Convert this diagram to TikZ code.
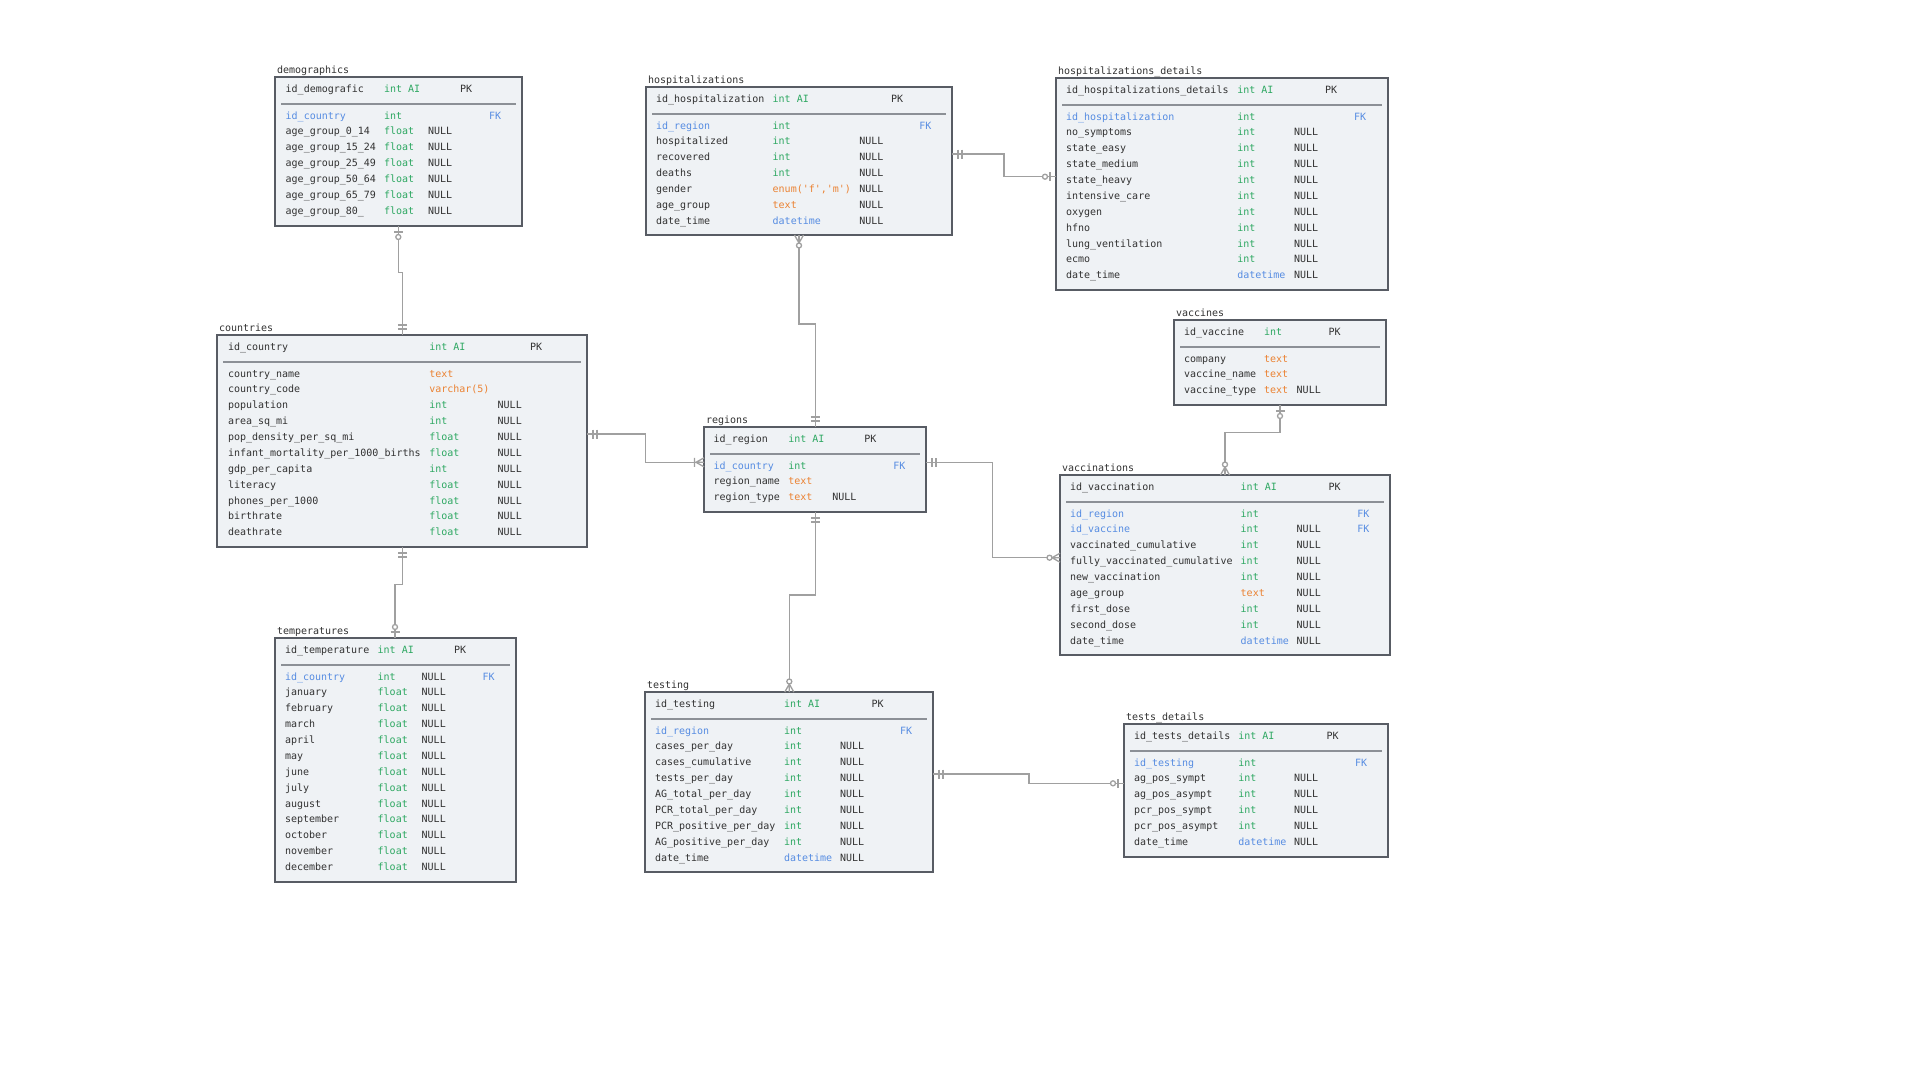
\documentclass[tikz,border=0pt]{standalone}
\usepackage{fontspec}
\setmonofont{DejaVu Sans Mono}
\definecolor{ink}{RGB}{50,50,50}
\definecolor{cgreen}{RGB}{46,168,98}
\definecolor{corange}{RGB}{235,130,50}
\definecolor{cblue}{RGB}{86,140,226}
\definecolor{boxf}{RGB}{239,242,245}
\definecolor{boxc}{RGB}{88,92,100}
\definecolor{sepc}{RGB}{140,144,150}
\definecolor{connc}{RGB}{160,160,160}
\tikzset{
  box/.style={draw=boxc, line width=2pt, fill=boxf, rectangle, inner sep=0pt, outer sep=0pt, anchor=north west},
  txt/.style={anchor=base west, inner sep=0pt, outer sep=0pt, font=\fontsize{10}{12}\selectfont\ttfamily, text=ink},
  sepl/.style={draw=sepc, line width=1.5pt},
  conn/.style={draw=connc, line width=1.3pt},
}
\newcounter{nn}
\newcommand\tcols[5]{\def\cN{#1}\def\cT{#2}\def\cU{#3}\def\cP{#4}\def\cK{#5}}
\newcommand\mktable[6]{%
  \node[box, minimum width=#5pt, minimum height=#6pt] (#1) at (#3,#4) {};
  \node[txt] (#1-title) at (#3+2,#4-4) {#2};
  \def\tn{#1}\def\ty{#4}%
  \pgfmathsetmacro\yy{#4+42.1}}
\newcommand\hdr[2]{%
  \node[txt] (\tn-hn) at (\cN,\ty+15.5) {#1};
  \node[txt,text=cgreen] (\tn-ht) at (\cT,\ty+15.5) {#2};
  \node[txt] (\tn-hp) at (\cP,\ty+15.5) {PK};
  \draw[sepl] ([xshift=6pt,yshift=-26.8pt]\tn.north west) -- ([xshift=-6pt,yshift=-26.8pt]\tn.north east);}
\newcommand\frow[4]{%
  \stepcounter{nn}%
  \node[txt] (\tn-n\arabic{nn}) at (\cN,\yy) {#1};
  \node[txt,text=#3] (\tn-t\arabic{nn}) at (\cT,\yy) {#2};
  \if\relax\detokenize{#4}\relax\else\node[txt] (\tn-u\arabic{nn}) at (\cU,\yy) {#4};\fi
  \pgfmathsetmacro\yy{\yy+15.87}}
\newcommand\fkrow[3]{%
  \stepcounter{nn}%
  \node[txt,text=cblue] (\tn-n\arabic{nn}) at (\cN,\yy) {#1};
  \node[txt,text=cgreen] (\tn-t\arabic{nn}) at (\cT,\yy) {#2};
  \if\relax\detokenize{#3}\relax\else\node[txt] (\tn-u\arabic{nn}) at (\cU,\yy) {#3};\fi
  \node[txt,text=cblue] (\tn-k\arabic{nn}) at (\cK,\yy) {FK};
  \pgfmathsetmacro\yy{\yy+15.87}}
% markers: #1 point, #2 rotation (0 right, 180 left, -90 down, 90 up)
\newcommand\mkone[2]{\begin{scope}[shift={(#1)},rotate=#2]\draw[conn] (6,-4.5)--(6,4.5) (10,-4.5)--(10,4.5);\end{scope}}
\newcommand\mkzone[2]{\begin{scope}[shift={(#1)},rotate=#2]\draw[conn] (6,-4.5)--(6,4.5);\draw[conn,fill=white] (11,0) circle[radius=2.5pt];\end{scope}}
\newcommand\mkzmany[2]{\begin{scope}[shift={(#1)},rotate=#2]\draw[conn] (0,-4.5)--(8,0)--(0,4.5) (0,0)--(8,0);\draw[conn,fill=white] (10.5,0) circle[radius=2.5pt];\end{scope}}
\newcommand\mkomany[2]{\begin{scope}[shift={(#1)},rotate=#2]\draw[conn] (0,-4.5)--(8,0)--(0,4.5) (0,0)--(8,0) (9.5,-4.5)--(9.5,4.5);\end{scope}}
\begin{document}
\begin{tikzpicture}[x=1pt,y=-1pt]
\fill[white] (0,0) rectangle (1920,1080);
\useasboundingbox (0,0) rectangle (1920,1080);

% ---------- demographics
\tcols{285.7}{384}{428}{460}{489}
\mktable{demo}{demographics}{275}{77}{247}{149}
\hdr{id\_demografic}{int AI}
\fkrow{id\_country}{int}{}
\frow{age\_group\_0\_14}{float}{cgreen}{NULL}
\frow{age\_group\_15\_24}{float}{cgreen}{NULL}
\frow{age\_group\_25\_49}{float}{cgreen}{NULL}
\frow{age\_group\_50\_64}{float}{cgreen}{NULL}
\frow{age\_group\_65\_79}{float}{cgreen}{NULL}
\frow{age\_group\_80\_}{float}{cgreen}{NULL}

% ---------- countries
\tcols{228}{429.3}{497.7}{530}{0}
\mktable{ctry}{countries}{217}{335}{370}{212}
\hdr{id\_country}{int AI}
\frow{country\_name}{text}{corange}{}
\frow{country\_code}{varchar(5)}{corange}{}
\frow{population}{int}{cgreen}{NULL}
\frow{area\_sq\_mi}{int}{cgreen}{NULL}
\frow{pop\_density\_per\_sq\_mi}{float}{cgreen}{NULL}
\frow{infant\_mortality\_per\_1000\_births}{float}{cgreen}{NULL}
\frow{gdp\_per\_capita}{int}{cgreen}{NULL}
\frow{literacy}{float}{cgreen}{NULL}
\frow{phones\_per\_1000}{float}{cgreen}{NULL}
\frow{birthrate}{float}{cgreen}{NULL}
\frow{deathrate}{float}{cgreen}{NULL}

% ---------- hospitalizations
\tcols{656}{772.7}{859.3}{891}{919.3}
\mktable{hosp}{hospitalizations}{646}{87}{306}{148}
\hdr{id\_hospitalization}{int AI}
\fkrow{id\_region}{int}{}
\frow{hospitalized}{int}{cgreen}{NULL}
\frow{recovered}{int}{cgreen}{NULL}
\frow{deaths}{int}{cgreen}{NULL}
\frow{gender}{enum('f','m')}{corange}{NULL}
\frow{age\_group}{text}{corange}{NULL}
\frow{date\_time}{datetime}{cblue}{NULL}

% ---------- hospitalizations_details
\tcols{1066}{1237.3}{1294}{1325}{1354}
\mktable{hdet}{hospitalizations\_details}{1056}{78}{332}{212}
\hdr{id\_hospitalizations\_details}{int AI}
\fkrow{id\_hospitalization}{int}{}
\frow{no\_symptoms}{int}{cgreen}{NULL}
\frow{state\_easy}{int}{cgreen}{NULL}
\frow{state\_medium}{int}{cgreen}{NULL}
\frow{state\_heavy}{int}{cgreen}{NULL}
\frow{intensive\_care}{int}{cgreen}{NULL}
\frow{oxygen}{int}{cgreen}{NULL}
\frow{hfno}{int}{cgreen}{NULL}
\frow{lung\_ventilation}{int}{cgreen}{NULL}
\frow{ecmo}{int}{cgreen}{NULL}
\frow{date\_time}{datetime}{cblue}{NULL}

% ---------- vaccines
\tcols{1184}{1264}{1296.7}{1328.7}{0}
\mktable{vacc}{vaccines}{1174}{320}{212}{85}
\hdr{id\_vaccine}{int}
\frow{company}{text}{corange}{}
\frow{vaccine\_name}{text}{corange}{}
\frow{vaccine\_type}{text}{corange}{NULL}

% ---------- vaccinations
\tcols{1070}{1240.7}{1296.7}{1328.7}{1357.3}
\mktable{vcn}{vaccinations}{1060}{475}{330}{180}
\hdr{id\_vaccination}{int AI}
\fkrow{id\_region}{int}{}
\fkrow{id\_vaccine}{int}{NULL}
\frow{vaccinated\_cumulative}{int}{cgreen}{NULL}
\frow{fully\_vaccinated\_cumulative}{int}{cgreen}{NULL}
\frow{new\_vaccination}{int}{cgreen}{NULL}
\frow{age\_group}{text}{corange}{NULL}
\frow{first\_dose}{int}{cgreen}{NULL}
\frow{second\_dose}{int}{cgreen}{NULL}
\frow{date\_time}{datetime}{cblue}{NULL}

% ---------- regions
\tcols{713.7}{788.3}{832.3}{864.3}{893.3}
\mktable{reg}{regions}{704}{427}{222}{85}
\hdr{id\_region}{int AI}
\fkrow{id\_country}{int}{}
\frow{region\_name}{text}{corange}{}
\frow{region\_type}{text}{corange}{NULL}

% ---------- temperatures
\tcols{285}{377.7}{421.7}{454}{482.7}
\mktable{temp}{temperatures}{275}{638}{241}{244}
\hdr{id\_temperature}{int AI}
\fkrow{id\_country}{int}{NULL}
\frow{january}{float}{cgreen}{NULL}
\frow{february}{float}{cgreen}{NULL}
\frow{march}{float}{cgreen}{NULL}
\frow{april}{float}{cgreen}{NULL}
\frow{may}{float}{cgreen}{NULL}
\frow{june}{float}{cgreen}{NULL}
\frow{july}{float}{cgreen}{NULL}
\frow{august}{float}{cgreen}{NULL}
\frow{september}{float}{cgreen}{NULL}
\frow{october}{float}{cgreen}{NULL}
\frow{november}{float}{cgreen}{NULL}
\frow{december}{float}{cgreen}{NULL}

% ---------- testing
\tcols{655}{784}{840}{871.7}{900}
\mktable{test}{testing}{645}{692}{288}{180}
\hdr{id\_testing}{int AI}
\fkrow{id\_region}{int}{}
\frow{cases\_per\_day}{int}{cgreen}{NULL}
\frow{cases\_cumulative}{int}{cgreen}{NULL}
\frow{tests\_per\_day}{int}{cgreen}{NULL}
\frow{AG\_total\_per\_day}{int}{cgreen}{NULL}
\frow{PCR\_total\_per\_day}{int}{cgreen}{NULL}
\frow{PCR\_positive\_per\_day}{int}{cgreen}{NULL}
\frow{AG\_positive\_per\_day}{int}{cgreen}{NULL}
\frow{date\_time}{datetime}{cblue}{NULL}

% ---------- tests_details
\tcols{1134}{1238.3}{1294}{1326.7}{1355}
\mktable{tdet}{tests\_details}{1124}{724}{264}{133}
\hdr{id\_tests\_details}{int AI}
\fkrow{id\_testing}{int}{}
\frow{ag\_pos\_sympt}{int}{cgreen}{NULL}
\frow{ag\_pos\_asympt}{int}{cgreen}{NULL}
\frow{pcr\_pos\_sympt}{int}{cgreen}{NULL}
\frow{pcr\_pos\_asympt}{int}{cgreen}{NULL}
\frow{date\_time}{datetime}{cblue}{NULL}

% ---------- connectors
% demographics - countries
\draw[conn] (demo.south -| 398.3,0) -- (398.3,272.7) -- (402.3,272.7) -- (ctry.north -| 402.3,0);
\mkzone{demo.south -| 398.3,0}{-90}
\mkone{ctry.north -| 402.3,0}{90}
% countries - regions
\draw[conn] (ctry.east |- 0,434) -- (645.7,434) -- (645.7,462.3) -- (reg.west |- 0,462.3);
\mkone{ctry.east |- 0,434}{0}
\mkomany{reg.west |- 0,462.3}{180}
% hospitalizations - regions
\draw[conn] (hosp.south -| 799,0) -- (799,324) -- (815.3,324) -- (reg.north -| 815.3,0);
\mkzmany{hosp.south -| 799,0}{-90}
\mkone{reg.north -| 815.3,0}{90}
% regions - testing
\draw[conn] (reg.south -| 815.3,0) -- (815.3,595) -- (789.3,595) -- (test.north -| 789.3,0);
\mkone{reg.south -| 815.3,0}{-90}
\mkzmany{test.north -| 789.3,0}{90}
% regions - vaccinations
\draw[conn] (reg.east |- 0,462.7) -- (992.7,462.7) -- (992.7,557.7) -- (vcn.west |- 0,557.7);
\mkone{reg.east |- 0,462.7}{0}
\mkzmany{vcn.west |- 0,557.7}{180}
% hospitalizations - hospitalizations_details
\draw[conn] (hosp.east |- 0,154) -- (1004,154) -- (1004,176.7) -- (hdet.west |- 0,176.7);
\mkone{hosp.east |- 0,154}{0}
\mkzone{hdet.west |- 0,176.7}{180}
% vaccines - vaccinations
\draw[conn] (vacc.south -| 1280,0) -- (1280,432.7) -- (1225,432.7) -- (vcn.north -| 1225,0);
\mkzone{vacc.south -| 1280,0}{-90}
\mkzmany{vcn.north -| 1225,0}{90}
% countries - temperatures
\draw[conn] (ctry.south -| 402.7,0) -- (402.7,584.3) -- (395,584.3) -- (temp.north -| 395,0);
\mkone{ctry.south -| 402.7,0}{-90}
\mkzone{temp.north -| 395,0}{90}
% testing - tests_details
\draw[conn] (test.east |- 0,774) -- (1029,774) -- (1029,783.3) -- (tdet.west |- 0,783.3);
\mkone{test.east |- 0,774}{0}
\mkzone{tdet.west |- 0,783.3}{180}
\end{tikzpicture}
\end{document}
